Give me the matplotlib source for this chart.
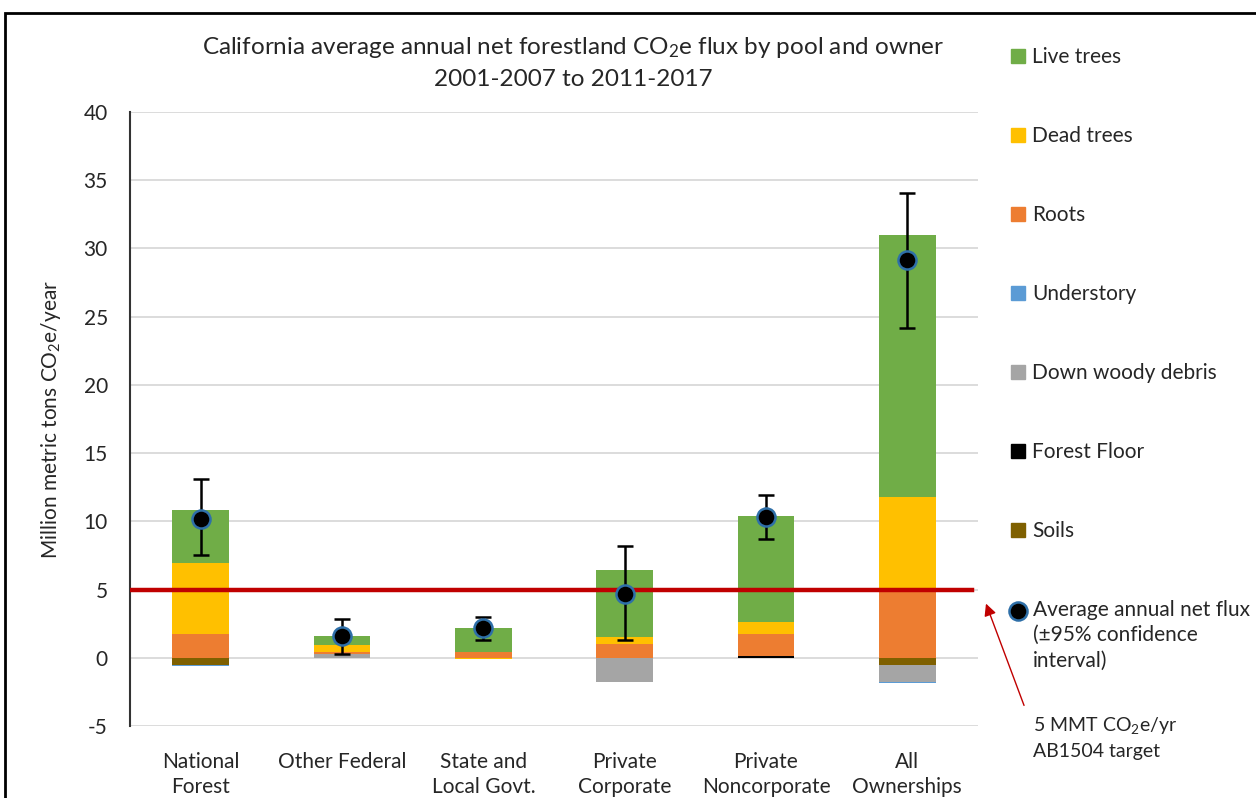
import matplotlib
matplotlib.use("Agg")
import matplotlib.pyplot as plt
import numpy as np
from matplotlib.patches import Patch, Rectangle
from matplotlib.lines import Line2D

plt.rcParams['font.family'] = ['Lato', 'DejaVu Sans']
plt.rcParams['mathtext.fontset'] = 'custom'
plt.rcParams['mathtext.rm'] = 'Lato'
plt.rcParams['mathtext.it'] = 'Lato:italic'
plt.rcParams['axes.unicode_minus'] = False

categories = ["National\nForest", "Other Federal", "State and\nLocal Govt.",
              "Private\nCorporate", "Private\nNoncorporate", "All\nOwnerships"]

# Series in Excel stacking order (bottom first)
soils        = [-0.55, 0.0, 0.0, 0.0, 0.0, -0.55]
forest_floor = [0.0, 0.0, 0.0, 0.0, 0.15, 0.0]
down_woody   = [0.0, 0.3, 0.0, -1.8, 0.0, -1.26]
understory   = [-0.05, 0.0, 0.0, 0.0, 0.0, -0.05]
roots        = [1.76, 0.15, 0.4, 1.0, 1.6, 4.95]
dead_trees   = [5.2, 0.5, -0.1, 0.5, 0.9, 6.85]
live_trees   = [3.9, 0.65, 1.8, 4.95, 7.75, 19.2]

net_flux  = [10.2, 1.6, 2.15, 4.65, 10.3, 29.15]
ci_low    = [7.5, 0.3, 1.27, 1.27, 8.7, 24.2]
ci_high   = [13.1, 2.83, 2.98, 8.2, 11.96, 34.1]

target = 5

series = [
    ("Soils", soils, "#7F6000"),
    ("Forest Floor", forest_floor, "#000000"),
    ("Down woody debris", down_woody, "#A5A5A5"),
    ("Understory", understory, "#5B9BD5"),
    ("Roots", roots, "#ED7D31"),
    ("Dead trees", dead_trees, "#FFC000"),
    ("Live trees", live_trees, "#70AD47"),
]

TXT = '#262626'
W, H = 1256, 798
fig = plt.figure(figsize=(12.56, 7.98), dpi=100)
ax = fig.add_axes([130/W, 1-726/H, (978-130)/W, (726-112)/H])

x = np.arange(len(categories))
pos_bottom = np.zeros(len(categories))
neg_bottom = np.zeros(len(categories))
for name, vals, col in series:
    v = np.array(vals, dtype=float)
    bottoms = np.where(v >= 0, pos_bottom, neg_bottom)
    ax.bar(x, v, 0.4, bottom=bottoms, color=col, zorder=2, linewidth=0)
    pos_bottom += np.where(v >= 0, v, 0)
    neg_bottom += np.where(v < 0, v, 0)

ax.axhline(target, color="#C00000", lw=3.2, zorder=3, xmin=0, xmax=0.993)

net = np.array(net_flux)
yerr = [net - np.array(ci_low), np.array(ci_high) - net]
ax.errorbar(x, net, yerr=yerr, fmt='none', ecolor='black', elinewidth=1.8,
            capsize=6, capthick=1.8, zorder=4)
ax.plot(x, net, 'o', ms=13, mfc='black', mec='#2E6FA8', mew=1.8, zorder=5, ls='none')

ax.set_xlim(-0.5, 5.5)
ax.set_ylim(-5, 40)
ax.set_yticks(np.arange(-5, 41, 5))
ax.yaxis.grid(True, color='#D9D9D9', lw=1.3, zorder=0)
ax.set_axisbelow(True)
for s in ['top', 'right', 'bottom']:
    ax.spines[s].set_visible(False)
ax.spines['left'].set_linewidth(1.5)
ax.spines['left'].set_color('#333333')
ax.tick_params(axis='both', length=0, labelsize=15, colors=TXT)
ax.tick_params(axis='y', pad=16)
ax.tick_params(axis='x', pad=19)
ax.set_xticks(x)
ax.set_xticklabels(categories, fontsize=15, linespacing=1.3)
ax.set_ylabel(r"Million metric tons CO$_2$e/year", fontsize=15, color=TXT, labelpad=15)

fig.text(573/W, 1-47/H, r"California average annual net forestland CO$_2$e flux by pool and owner",
         ha='center', va='center', fontsize=17.5, color=TXT)
fig.text(573/W, 1-80/H, "2001-2007 to 2011-2017",
         ha='center', va='center', fontsize=17.5, color=TXT)

handles = [Patch(color=c) for _, _, c in reversed(series)]
labels = [n for n, _, _ in reversed(series)]
leg = fig.legend(handles, labels, loc='upper left', bbox_to_anchor=(1003/W, 1-39/H),
                 frameon=False, fontsize=15, labelspacing=2.83, handlelength=0.65,
                 handleheight=0.65, handletextpad=0.35, borderaxespad=0)
for t in leg.get_texts():
    t.set_color(TXT)

# Last legend entry (marker aligned with first text line, as in the original)
fig.add_artist(Line2D([1018/W], [1-611/H], marker='o', ls='none', ms=13, mfc='black',
                      mec='#2E6FA8', mew=1.8, transform=fig.transFigure))
fig.text(1033/W, 1-600/H, "Average annual net flux\n(±95% confidence\ninterval)",
         ha='left', va='top', fontsize=15, color=TXT, linespacing=1.33)

fig.text(1033/W, 1-737/H, "5 MMT CO$_2$e/yr\nAB1504 target", ha='left', va='center',
         fontsize=14, color=TXT, linespacing=1.5)
ax.annotate("", xy=(985/W, 1-601/H), xycoords='figure fraction',
            xytext=(1025/W, 1-708/H), textcoords='figure fraction',
            arrowprops=dict(arrowstyle='-|>', color='#C00000', lw=1, mutation_scale=18))

fig.patches.append(Rectangle((5/W, -0.1), 1.2, 1-13/H+0.1, transform=fig.transFigure,
                             fill=False, edgecolor='black', lw=2))

fig.savefig("out.png", dpi=100)
